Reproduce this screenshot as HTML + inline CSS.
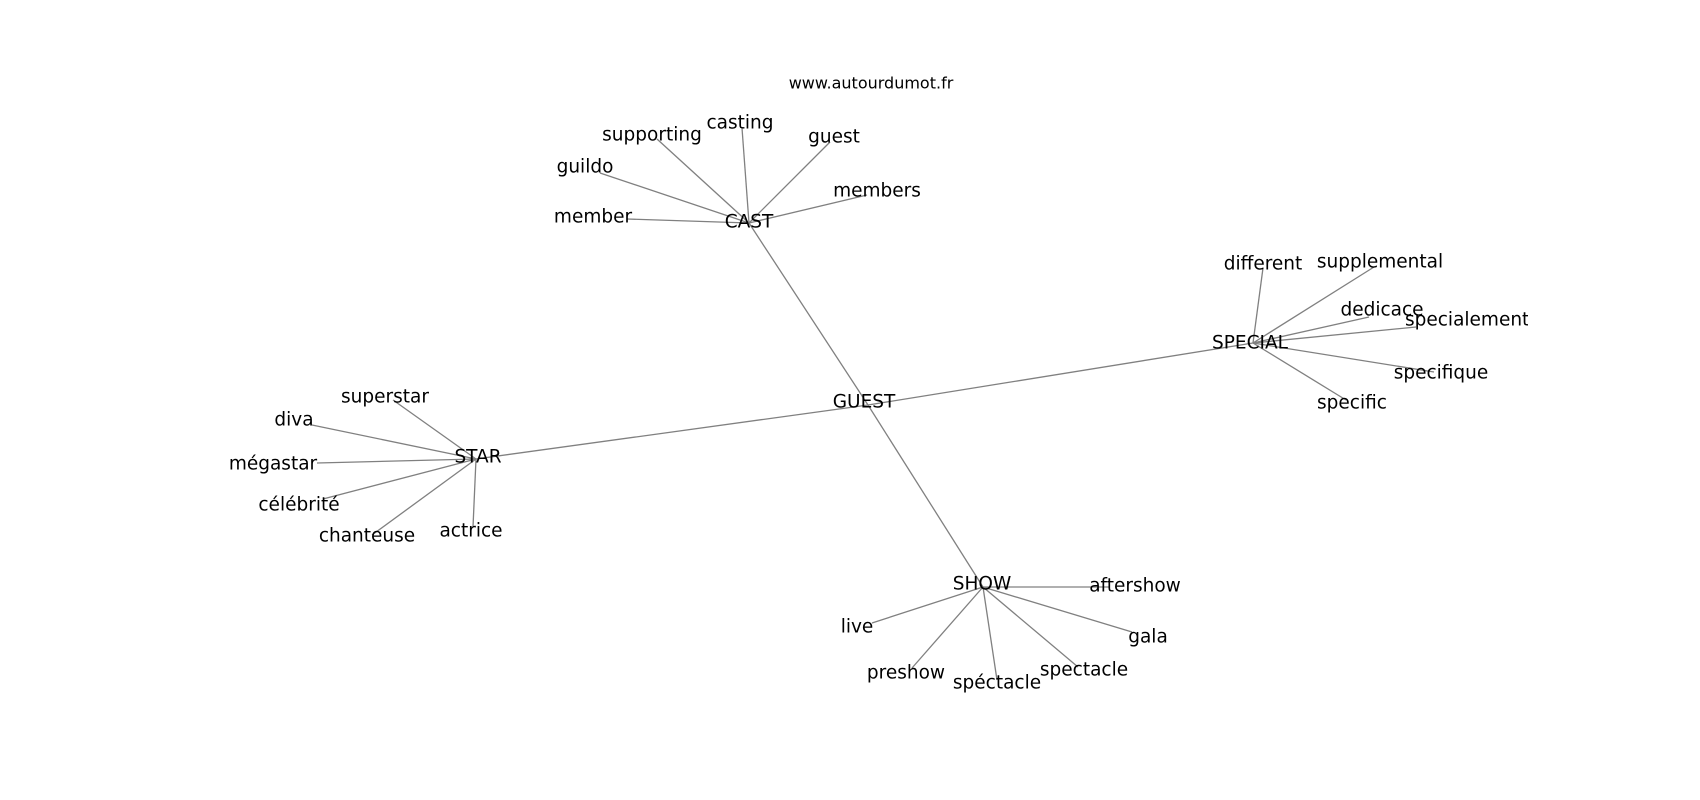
<!DOCTYPE html>
<html><head><meta charset="utf-8"><style>
html,body{margin:0;padding:0;background:#fff;}
svg{display:block;}
text{font-family:"DejaVu Sans","Liberation Sans",sans-serif;fill:#000;}
</style></head><body>
<svg width="1700" height="800" viewBox="0 0 1700 800" xmlns="http://www.w3.org/2000/svg">
<defs><clipPath id="c"><rect x="0" y="0" width="1528" height="800"/></clipPath></defs>
<g stroke="#808080" stroke-width="1.3" fill="none">
<line x1="868" y1="405" x2="749" y2="223"/>
<line x1="868" y1="405" x2="1253" y2="343"/>
<line x1="868" y1="405" x2="476" y2="459"/>
<line x1="868" y1="405" x2="983" y2="587"/>
<line x1="749" y1="223" x2="742" y2="128"/>
<line x1="749" y1="223" x2="657" y2="139"/>
<line x1="749" y1="223" x2="830" y2="142"/>
<line x1="749" y1="223" x2="600" y2="173"/>
<line x1="749" y1="223" x2="627" y2="219"/>
<line x1="749" y1="223" x2="867" y2="195"/>
<line x1="1253" y1="343" x2="1263" y2="268"/>
<line x1="1253" y1="343" x2="1374" y2="267"/>
<line x1="1253" y1="343" x2="1369" y2="317"/>
<line x1="1253" y1="343" x2="1416" y2="327"/>
<line x1="1253" y1="343" x2="1434" y2="372"/>
<line x1="1253" y1="343" x2="1346" y2="400"/>
<line x1="476" y1="459" x2="393" y2="400"/>
<line x1="476" y1="459" x2="312" y2="425"/>
<line x1="476" y1="459" x2="317" y2="463"/>
<line x1="476" y1="459" x2="323" y2="499"/>
<line x1="476" y1="459" x2="372" y2="535"/>
<line x1="476" y1="459" x2="473" y2="527"/>
<line x1="983" y1="587" x2="872" y2="623"/>
<line x1="983" y1="587" x2="912" y2="668"/>
<line x1="983" y1="587" x2="997" y2="680"/>
<line x1="983" y1="587" x2="1078" y2="667"/>
<line x1="983" y1="587" x2="1132" y2="632"/>
<line x1="983" y1="587" x2="1110" y2="587"/>
</g>
<text x="871" y="83" font-size="16" text-anchor="middle" dominant-baseline="central">www.autourdumot.fr</text>
<g font-size="18.5" text-anchor="middle" dominant-baseline="central">
<text x="864" y="402">GUEST</text>
<text x="749" y="222">CAST</text>
<text x="1250" y="343">SPECIAL</text>
<text x="478" y="457">STAR</text>
<text x="982" y="584">SHOW</text>
<text x="740" y="123">casting</text>
<text x="652" y="135">supporting</text>
<text x="834" y="137">guest</text>
<text x="585" y="167">guildo</text>
<text x="593" y="217">member</text>
<text x="877" y="191">members</text>
<text x="1263" y="264">different</text>
<text x="1380" y="262">supplemental</text>
<text x="1382" y="310">dedicace</text>
<text x="1405" y="320" text-anchor="start" clip-path="url(#c)">specialement</text>
<text x="1441" y="373">specifique</text>
<text x="1352" y="403">specific</text>
<text x="385" y="397">superstar</text>
<text x="294" y="420">diva</text>
<text x="273" y="464">mégastar</text>
<text x="299" y="505">célébrité</text>
<text x="367" y="536">chanteuse</text>
<text x="471" y="531">actrice</text>
<text x="1135" y="586">aftershow</text>
<text x="857" y="627">live</text>
<text x="906" y="673">preshow</text>
<text x="997" y="683">spéctacle</text>
<text x="1084" y="670">spectacle</text>
<text x="1148" y="637">gala</text>
</g>
</svg>
</body></html>
